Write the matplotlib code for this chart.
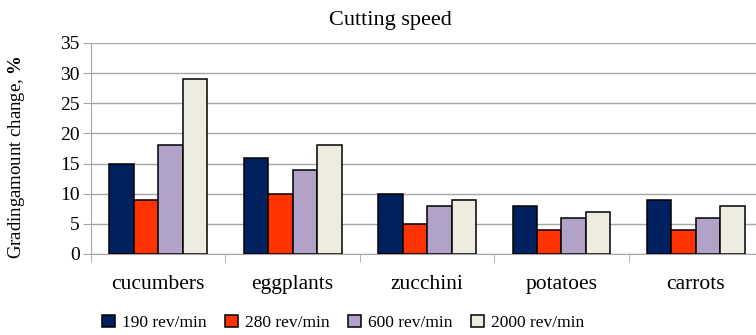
import numpy as np
import matplotlib.pyplot as plt
from matplotlib.ticker import FixedLocator

plt.rcParams["font.family"] = ["Liberation Serif", "DejaVu Serif"]
plt.rcParams["mathtext.fontset"] = "custom"
plt.rcParams["mathtext.bf"] = "Liberation Serif:bold"
plt.rcParams["mathtext.rm"] = "Liberation Serif"

categories = ["cucumbers", "eggplants", "zucchini", "potatoes", "carrots"]
series_names = ["190 rev/min", "280 rev/min", "600 rev/min", "2000 rev/min"]
rpm_190 = [15, 16, 10, 8, 9]
rpm_280 = [9, 10, 5, 4, 4]
rpm_600 = [18, 14, 8, 6, 6]
rpm_2000 = [29, 18, 9, 7, 8]
colors = ["#002060", "#FF3300", "#B3A2C7", "#EEECE1"]

fig = plt.figure(figsize=(7.56, 3.35), dpi=100)
ax = fig.add_axes([0.1204, 0.2418, 0.889, 0.63])

x = np.arange(len(categories))
w = 0.182
for i, (vals, name) in enumerate(zip([rpm_190, rpm_280, rpm_600, rpm_2000], series_names)):
    ax.bar(x + (i - 1.5) * w, vals, w, color=colors[i], edgecolor="black",
           linewidth=1.1, label=name, zorder=3)

ax.set_xlim(-0.5, 4.5)
ax.set_ylim(0, 35)
ax.set_yticks(range(0, 36, 5))
ax.yaxis.grid(True, color="#A6A6A6", linewidth=1.0, zorder=0)
ax.tick_params(axis="y", labelsize=14, length=6, color="#A6A6A6", pad=2)

ax.set_xticks(x)
ax.set_xticklabels(categories, fontsize=15.5)
ax.tick_params(axis="x", which="major", length=0, pad=15)
ax.xaxis.set_minor_locator(FixedLocator(np.arange(-0.5, 5, 1.0)))
ax.tick_params(axis="x", which="minor", length=6, color="#A6A6A6")

for side in ["top", "right"]:
    ax.spines[side].set_visible(False)
for side in ["left", "bottom"]:
    ax.spines[side].set_color("#A6A6A6")

fig.text(0.516, 0.94, "Cutting speed", fontsize=16, ha="center", va="center")
ax.set_ylabel(r"Gradingamount change, $\mathbf{\%}$", fontsize=13.5)
ax.yaxis.set_label_coords(-0.096, 0.46)

fig.legend(loc="center", bbox_to_anchor=(0.454, 0.036), ncol=4, fontsize=12.5,
           frameon=False, handlelength=0.75, handleheight=0.75, handletextpad=0.4,
           columnspacing=1.05)

fig.savefig("out.png", dpi=100)
